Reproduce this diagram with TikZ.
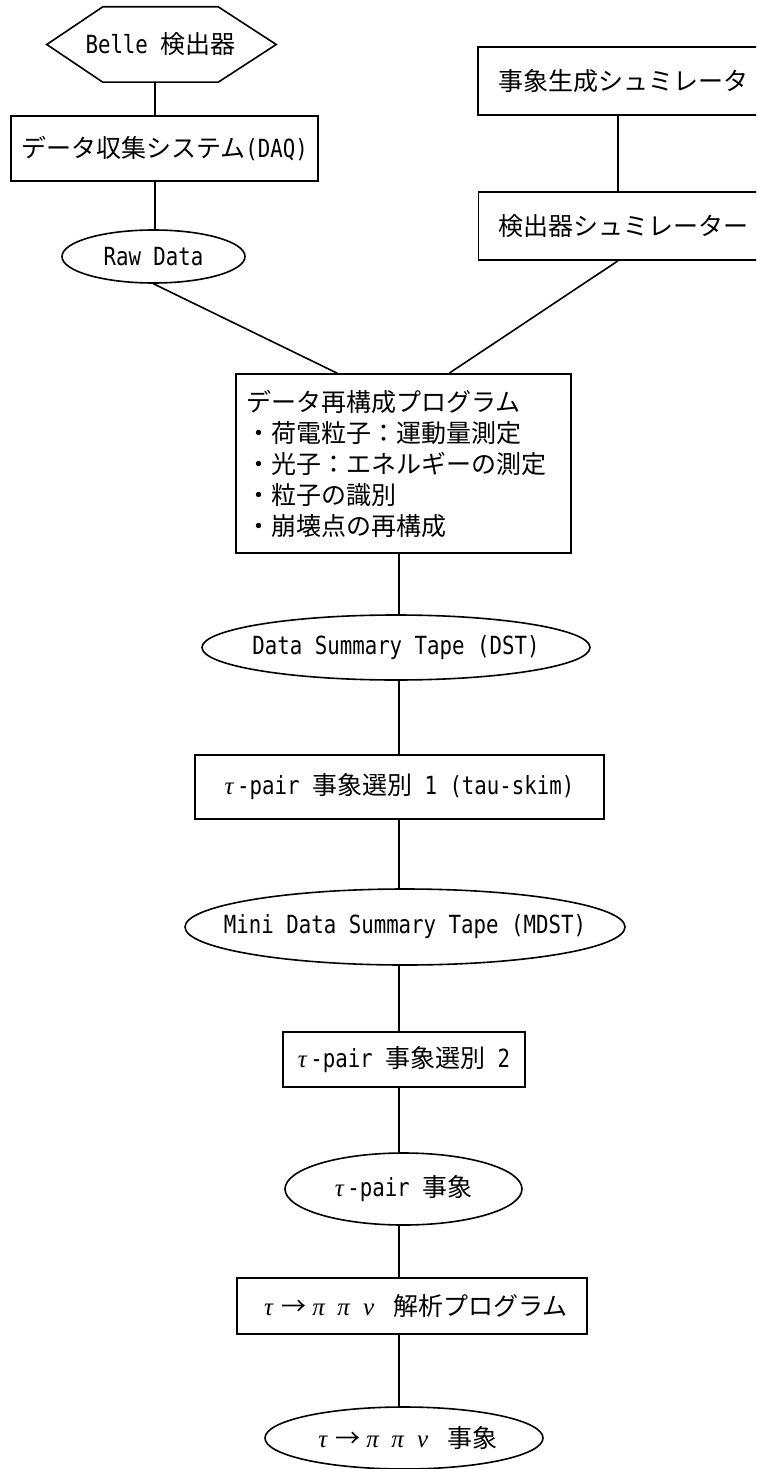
\documentclass[tikz,border=0pt]{standalone}
\usepackage{fontspec}
\setmainfont{Noto Sans CJK JP}
\newfontfamily\jp{Noto Sans CJK JP}
\newfontfamily\lat{DejaVu Sans Mono}[Scale=1.0,FakeStretch=0.83]
\newfontfamily\grk{Liberation Serif}
\usetikzlibrary{shapes.geometric,calc}
\newcommand\ltxt[1]{{\lat #1}}
\newcommand\gk[1]{{\grk\itshape #1}}
\newcommand\fwcell[1]{\makebox[25pt]{#1}}
\newcommand\hwtau{\makebox[12.5pt][l]{\gk{τ}}}
\newcommand\hsp{\hspace*{12.5pt}}
\tikzset{
  every node/.style={font=\fontsize{25}{31}\jp, inner sep=0pt},
  rbox/.style={draw, line width=1.6pt, rectangle},
  oval/.style={draw, line width=1.6pt, ellipse},
  conn/.style={line width=1.6pt},
  hexline/.style={line width=1.6pt, line join=miter},
}
\begin{document}
\begin{tikzpicture}[x=1pt,y=-1pt]
\useasboundingbox (0,0) rectangle (756,1469);
\clip (0,0) rectangle (756,1469);
% nodes
\node[minimum width=115, minimum height=75, label=center:{\ltxt{Belle }検出器}] (belle) at (160.5,44.5) {};
\draw[hexline] (belle.north west) -- (belle.north east) -- ($(belle.east)+(58,0)$) -- (belle.south east) -- (belle.south west) -- ($(belle.west)+(-56,0)$) -- cycle;
\node[rbox, minimum width=307, minimum height=65] (daq) at (164.5,148.5) {データ収集システム\ltxt{(DAQ)}};
\node[oval, minimum width=183, minimum height=53, label=center:{\ltxt{Raw Data}}] (raw) at (153.5,256.5) {};
\node[rbox, minimum width=296, minimum height=68, inner xsep=20pt] (gen) at (626,81) {\makebox[256pt][l]{事象生成シュミレータ}};
\node[rbox, minimum width=296, minimum height=68, inner xsep=20pt] (det) at (626.5,226) {\makebox[256pt][l]{検出器シュミレーター}};
\node[rbox, minimum height=179, text width=315pt, inner xsep=10pt, align=left] (reco) at (403.5,463.5)
  {データ再構成プログラム\\・荷電粒子：運動量測定\\・光子：エネルギーの測定\\・粒子の識別\\・崩壊点の再構成};
\node[oval, minimum width=388, minimum height=65, label=center:{\ltxt{Data Summary Tape (DST)}}] (dst) at (396,647.5) {};
\node[rbox, minimum width=409, minimum height=64] (skim1) at (399.5,787) {\hwtau\ltxt{-pair }事象選別\ltxt{ 1 (tau-skim)}};
\node[oval, minimum width=440, minimum height=76, label=center:{\ltxt{Mini Data Summary Tape (MDST)}}] (mdst) at (405,927) {};
\node[rbox, minimum width=242, minimum height=55] (skim2) at (404,1059.5) {\hwtau\ltxt{-pair }事象選別\ltxt{ 2}};
\node[oval, minimum width=237, minimum height=72, label=center:{\hwtau\ltxt{-pair }事象}] (taupair) at (403.5,1189) {};
\node[rbox, minimum width=350, minimum height=56] (ana) at (412,1306) {\fwcell{\gk{τ}}\fwcell{→}\fwcell{\gk{π}}\fwcell{\gk{π}}\fwcell{\gk{ν}}\hsp 解析プログラム};
\node[oval, minimum width=278, minimum height=62, label=center:{\fwcell{\gk{τ}}\fwcell{→}\fwcell{\gk{π}}\fwcell{\gk{π}}\fwcell{\gk{ν}}\hsp 事象}] (final) at (404,1438) {};
% connector guides
\coordinate (lx) at (155,0);
\coordinate (rx) at (618,0);
\coordinate (sp) at (399,0);
\coordinate (recoL) at ($(reco.north west)+(102,0)$);
\coordinate (recoR) at ($(reco.north west)+(214,0)$);
\coordinate (detB) at (det.south -| rx);
% connectors
\draw[conn] (belle.south -| lx) -- (daq.north -| lx);
\draw[conn] (daq.south -| lx) -- (raw.north -| lx);
\draw[conn] (raw.south) -- (recoL);
\draw[conn] (gen.south -| rx) -- (det.north -| rx);
\draw[conn] (detB) -- (recoR);
\draw[conn] (reco.south -| sp) -- (dst.north -| sp);
\draw[conn] (dst.south -| sp) -- (skim1.north -| sp);
\draw[conn] (skim1.south -| sp) -- (mdst.north -| sp);
\draw[conn] (mdst.south -| sp) -- (skim2.north -| sp);
\draw[conn] (skim2.south -| sp) -- (taupair.north -| sp);
\draw[conn] (taupair.south -| sp) -- (ana.north -| sp);
\draw[conn] (ana.south -| sp) -- (final.north -| sp);
\end{tikzpicture}
\end{document}
